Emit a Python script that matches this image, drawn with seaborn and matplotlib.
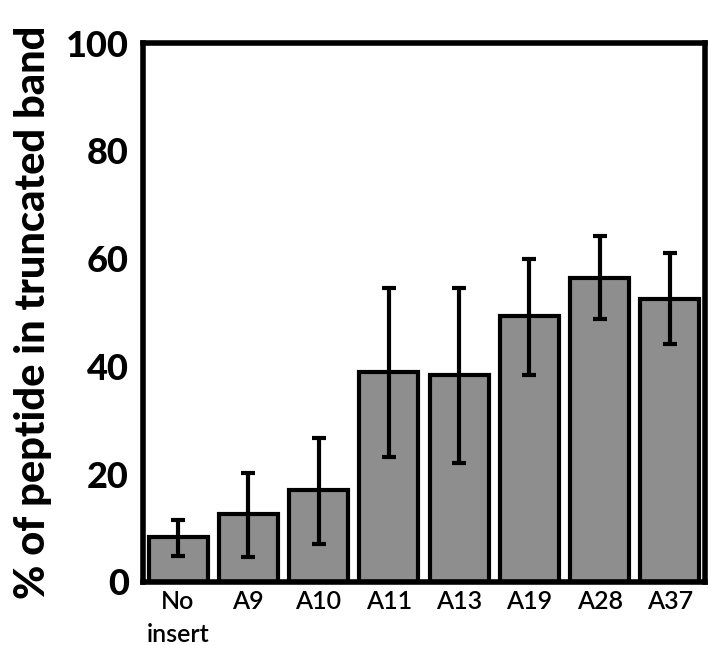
import matplotlib
matplotlib.use("Agg")
import matplotlib.pyplot as plt
import seaborn as sns
import numpy as np
import pandas as pd

categories = ["No\ninsert", "A9", "A10", "A11", "A13", "A19", "A28", "A37"]
values = [8.4, 12.6, 17.1, 39.0, 38.5, 49.3, 56.5, 52.6]
err_upper = [11.5, 20.3, 26.8, 54.5, 54.5, 60.0, 64.3, 61.0]
err_lower = [4.8, 4.6, 7.1, 23.2, 22.1, 38.5, 48.9, 44.2]
yticks = [0, 20, 40, 60, 80, 100]

sns.set_theme(style="white")
plt.rcParams['font.family'] = ['Lato', 'DejaVu Sans']
plt.rcParams['text.color'] = 'black'
plt.rcParams['axes.labelcolor'] = 'black'
plt.rcParams['xtick.labelcolor'] = 'black'
plt.rcParams['ytick.labelcolor'] = 'black'

df = pd.DataFrame({"cat": categories, "val": values})

fig = plt.figure(figsize=(7.11, 6.45), dpi=100)
ax = fig.add_axes([0.201, 0.0977, 0.7906, 0.8353])

sns.barplot(data=df, x="cat", y="val", color="#8e8e8e", saturation=1,
            edgecolor="black", linewidth=3, width=0.84, errorbar=None, ax=ax)

pos = np.arange(len(categories))
vals = np.array(values)
yerr = np.vstack([vals - np.array(err_lower), np.array(err_upper) - vals])
ax.errorbar(pos, vals, yerr=yerr, fmt="none", ecolor="black",
            elinewidth=3, capsize=5, capthick=3, zorder=5)

ax.set_ylim(0, 100)
ax.set_xlim(-0.5, len(categories) - 0.5)
ax.set_yticks(yticks)
ax.set_yticklabels([str(t) for t in yticks], fontsize=26, fontweight="black", color="black")
ax.set_xticks(pos)
ax.set_xticklabels(categories, fontsize=18, fontweight="semibold", linespacing=1.5, color="black")
ax.tick_params(axis="y", direction="in", length=6, width=1, color="#888888", pad=10)
ax.tick_params(axis="x", length=0, pad=6)
ax.set_xlabel("")
ax.set_ylabel("% of peptide in truncated band", fontsize=30, fontweight="black",
              labelpad=10, color="black")
for s in ax.spines.values():
    s.set_visible(True)
    s.set_color("black")
    s.set_linewidth(4)

fig.savefig("out.png", dpi=100)
